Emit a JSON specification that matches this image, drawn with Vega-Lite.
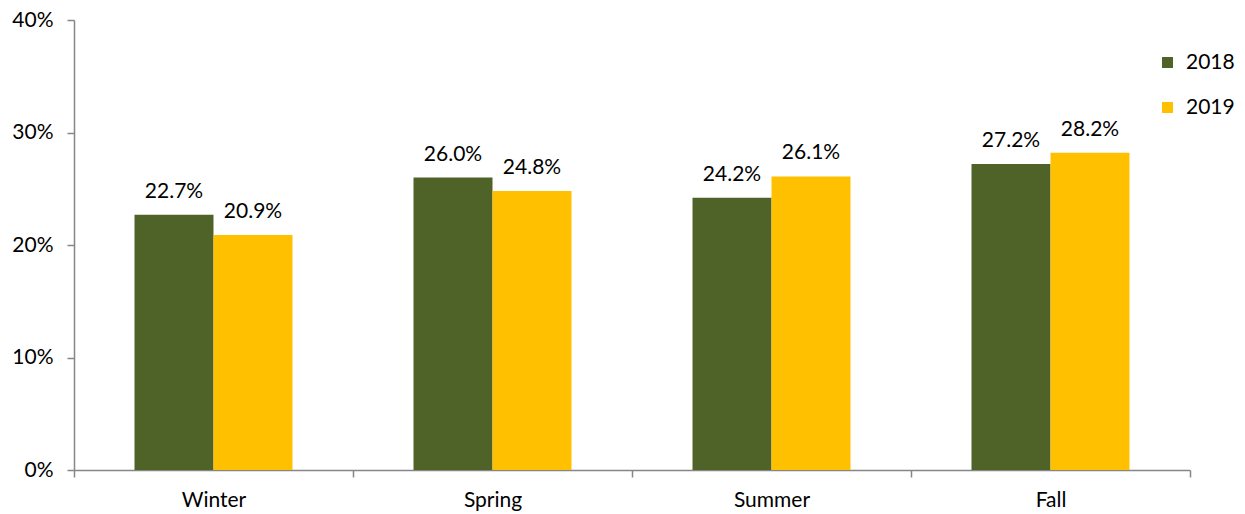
{
  "$schema": "https://vega.github.io/schema/vega-lite/v6.json",
  "width": 1116,
  "height": 450,
  "autosize": {"type": "none"},
  "padding": {"left": 74, "top": 20, "right": 55, "bottom": 44},
  "background": "white",
  "config": {
    "view": {"stroke": null},
    "font": "Lato",
    "axis": {"labelFont": "Lato", "labelFontSize": 21, "labelColor": "#000000", "domainColor": "#868686", "tickColor": "#868686", "grid": false, "title": null}
  },
  "data": {
    "values": [
      {"season": "Winter", "year": "2018", "value": 0.227},
      {"season": "Winter", "year": "2019", "value": 0.209},
      {"season": "Spring", "year": "2018", "value": 0.260},
      {"season": "Spring", "year": "2019", "value": 0.248},
      {"season": "Summer", "year": "2018", "value": 0.242},
      {"season": "Summer", "year": "2019", "value": 0.261},
      {"season": "Fall", "year": "2018", "value": 0.272},
      {"season": "Fall", "year": "2019", "value": 0.282}
    ]
  },
  "encoding": {
    "x": {
      "field": "season", "type": "nominal", "sort": ["Winter", "Spring", "Summer", "Fall"],
      "scale": {"paddingInner": 0, "paddingOuter": 0},
      "axis": {"labelAngle": 0, "tickBand": "extent", "tickSize": 7, "labelPadding": 12, "domainWidth": 1.5, "tickWidth": 1.5}
    },
    "xOffset": {"field": "year", "type": "nominal", "scale": {"paddingInner": 0, "paddingOuter": 0.766}},
    "y": {
      "field": "value", "type": "quantitative",
      "scale": {"domain": [0, 0.4], "nice": false},
      "axis": {"format": ".0%", "values": [0, 0.1, 0.2, 0.3, 0.4], "tickSize": 7, "labelPadding": 14, "domainWidth": 1.5, "tickWidth": 1.5}
    }
  },
  "layer": [
    {
      "mark": {"type": "bar"},
      "encoding": {
        "color": {
          "field": "year", "type": "nominal",
          "scale": {"domain": ["2018", "2019"], "range": ["#4F6228", "#FFC000"]},
          "legend": {"title": null, "orient": "none", "legendX": 1083, "legendY": 32, "symbolType": "square", "symbolSize": 120, "symbolStrokeWidth": 0, "labelFontSize": 21, "labelFont": "Lato", "labelColor": "#000000", "rowPadding": 23, "labelOffset": 8}
        }
      }
    },
    {
      "mark": {"type": "text", "baseline": "bottom", "dy": -13, "fontSize": 21, "font": "Lato", "color": "#000000"},
      "encoding": {
        "text": {"field": "value", "type": "quantitative", "format": ".1%"}
      }
    }
  ]
}
